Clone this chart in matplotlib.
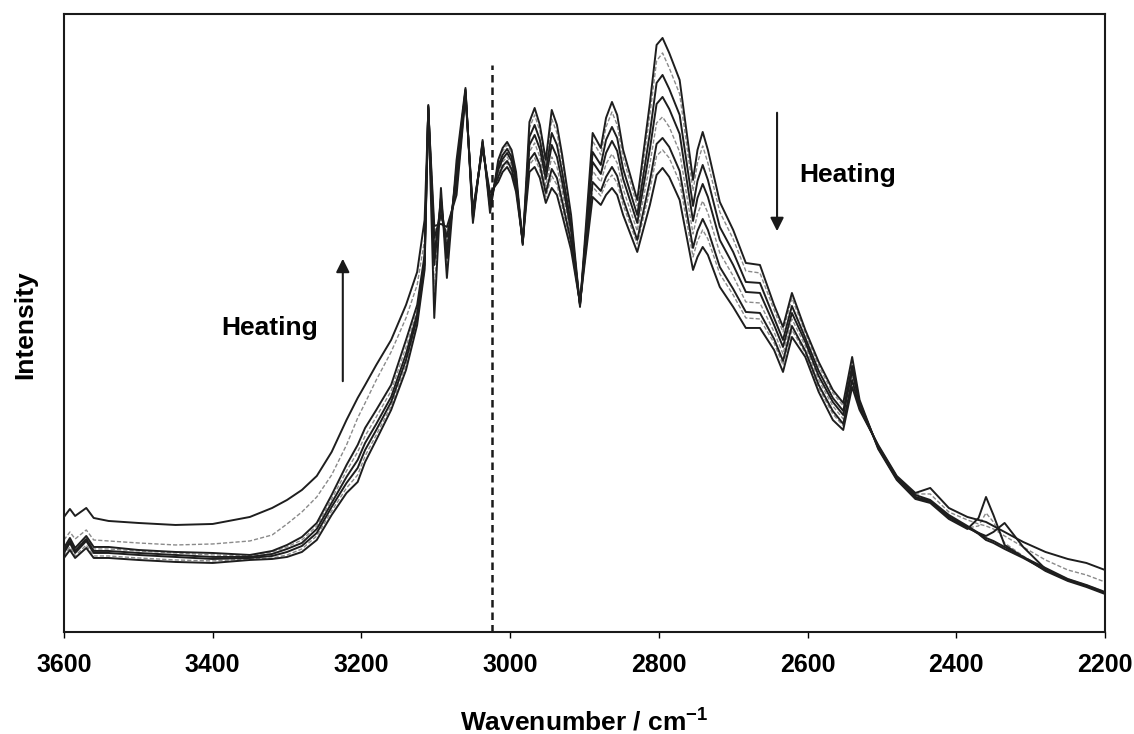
import numpy as np
import matplotlib
matplotlib.use("Agg")
import matplotlib.pyplot as plt

plt.rcParams['font.family'] = ['Liberation Sans', 'DejaVu Sans']
plt.rcParams['mathtext.fontset'] = 'custom'
plt.rcParams['mathtext.rm'] = 'Liberation Sans'
plt.rcParams['mathtext.bf'] = 'Liberation Sans:bold'

# wavenumber nodes (cm-1)
wavenumber = [3600, 3592, 3585, 3570, 3560, 3540, 3500, 3450, 3400, 3350,
              3320, 3300, 3280, 3260, 3240, 3220, 3205, 3195, 3180, 3160,
              3140, 3125, 3115, 3110, 3102, 3093, 3085, 3072, 3060, 3050,
              3037, 3027, 3016, 3010, 3004, 2998, 2992, 2983, 2974, 2967,
              2960, 2952, 2944, 2937, 2930, 2918, 2906, 2889, 2878, 2871,
              2863, 2856, 2848, 2829, 2812, 2803, 2795, 2786, 2772, 2754,
              2748, 2741, 2734, 2718, 2700, 2683, 2664, 2645, 2633, 2621,
              2603, 2585, 2566, 2552, 2540, 2530, 2505, 2480, 2455, 2435,
              2410, 2385, 2370, 2360, 2350, 2335, 2310, 2280, 2250, 2225, 2200]

# intensity (arb. units), spectra ordered from lowest to highest temperature
spec_1 = [74, 82, 74, 84, 74, 74, 72, 70, 69, 72, 73, 75, 80, 92, 117, 139, 150, 170, 192, 222,
          262, 307, 362, 527, 314, 444, 354, 472, 544, 409, 492, 419,
          472, 484, 490, 482, 460, 387, 510, 524, 507, 472, 522, 507, 477, 417, 325, 499, 484, 514,
          530, 517, 482, 432, 529, 587, 594, 579, 552, 452, 482, 500, 482, 430,
          402, 369, 367, 327, 305, 339, 302,
          270, 242, 229, 275, 232, 183, 152, 133, 129, 113, 103, 114, 135, 117, 87, 75, 61, 51, 45, 38]
spec_2 = [76, 85, 76, 87, 76, 76, 74, 72, 71, 73, 74, 77, 83, 96, 121, 144, 157, 176, 197, 226,
          267, 310, 364, 526, 342, 439, 364, 468, 543, 411, 491, 422,
          469, 481, 487, 479, 458, 388, 504, 517, 501, 467, 513, 499, 470, 413, 326, 491, 477, 505,
          520, 507, 474, 426, 517, 571, 579, 564, 538, 441, 469, 486, 469, 420,
          393, 361, 359, 322, 300, 334, 299,
          266, 239, 226, 271, 231, 184, 153, 134, 130, 114, 104, 106, 119, 110, 89, 76, 62, 52, 46, 39]
spec_3 = [79, 89, 79, 91, 79, 79, 77, 75, 73, 74, 76, 80, 86, 99, 125, 149, 164, 182, 202, 230,
          272, 314, 367, 526, 367, 434, 374, 462, 542, 413, 490, 425,
          466, 477, 483, 475, 454, 388, 495, 507, 492, 460, 499, 487, 460, 407, 327, 480, 467, 492,
          505, 494, 463, 417, 499, 549, 557, 543, 517, 426, 451, 467, 452, 405,
          380, 350, 349, 314, 292, 326, 294,
          261, 234, 221, 266, 229, 184, 153, 134, 130, 115, 104, 99, 96, 100, 109, 85, 63, 52, 46, 39]
spec_4 = [81, 91, 81, 93, 81, 81, 79, 77, 75, 75, 78, 83, 89, 103, 129, 155, 172, 189, 208, 235,
          278, 318, 370, 525, 377, 428, 382, 456, 541, 415, 489, 428,
          462, 473, 479, 471, 451, 389, 487, 497, 483, 453, 487, 475, 450, 401, 327, 470, 458, 479,
          491, 481, 453, 409, 483, 528, 535, 523, 498, 411, 434, 448, 435, 392,
          367, 340, 339, 307, 285, 319, 290,
          256, 230, 217, 261, 228, 185, 154, 135, 131, 115, 105, 98, 92, 89, 83, 74, 62, 52, 46, 39]
spec_5 = [83, 92, 83, 95, 83, 83, 81, 79, 77, 76, 80, 85, 92, 106, 133, 161, 180, 196, 215, 241,
          285, 322, 374, 524, 387, 422, 389, 451, 540, 417, 487, 431,
          459, 470, 475, 467, 448, 389, 480, 489, 475, 446, 475, 465, 441, 396, 328, 461, 450, 468,
          478, 469, 443, 401, 468, 509, 515, 505, 480, 398, 418, 431, 419, 379,
          356, 330, 329, 300, 278, 313, 286,
          252, 226, 213, 257, 226, 185, 154, 135, 131, 116, 105, 98, 92, 90, 84, 75, 63, 53, 47, 40]
spec_6 = [84, 94, 84, 96, 85, 85, 82, 80, 79, 77, 81, 87, 95, 109, 137, 167, 187, 204, 222, 247,
          292, 327, 377, 524, 394, 417, 395, 446, 539, 419, 486, 434,
          455, 466, 471, 463, 445, 390, 472, 479, 467, 439, 463, 454, 431, 390, 328, 450, 441, 455,
          465, 456, 433, 392, 451, 488, 494, 485, 461, 384, 401, 413, 402, 365,
          343, 320, 319, 293, 271, 306, 281,
          247, 221, 208, 252, 224, 186, 155, 137, 132, 117, 106, 99, 94, 91, 85, 75, 64, 53, 47, 40]
spec_7 = [92, 100, 93, 102, 92, 91, 89, 87, 88, 91, 97, 108, 120, 135, 157, 187, 214, 229, 252, 280,
          314, 347, 392, 523, 400, 413, 400, 442, 538, 420, 485, 436,
          453, 464, 469, 461, 443, 390, 467, 474, 462, 435, 456, 447, 426, 387, 329, 445, 436, 449,
          457, 449, 427, 388, 442, 476, 482, 474, 450, 375, 391, 402, 393, 358,
          337, 314, 313, 289, 267, 302, 279,
          244, 218, 206, 249, 223, 186, 155, 138, 138, 120, 112, 108, 106, 103, 96, 85, 72, 62, 57, 50]
spec_8 = [115, 123, 116, 124, 114, 111, 109, 107, 108, 115, 124, 132, 142, 156, 180, 212, 234, 247, 267, 292,
          327, 360, 412, 522, 406, 408, 405, 437, 536, 422, 483, 439,
          450, 460, 465, 457, 440, 391, 460, 465, 454, 429, 444, 437, 417, 382, 329, 435, 427, 437,
          444, 437, 417, 380, 427, 457, 464, 455, 432, 362, 375, 385, 377, 345,
          325, 304, 304, 282, 260, 295, 275,
          240, 212, 202, 245, 222, 187, 156, 139, 144, 124, 115, 112, 110, 106, 100, 90, 80, 73, 69, 62]

spectra = [spec_1, spec_2, spec_3, spec_4, spec_5, spec_6, spec_7, spec_8]
dashed = [False, True, False, False, True, False, True, False]

fig = plt.figure(figsize=(11.34, 7.34), dpi=100)
ax = fig.add_axes([0.0564, 0.139, 0.918, 0.842])

for s, d in zip(spectra, dashed):
    if d:
        ax.plot(wavenumber, s, color='#8a8a8a', lw=1.0, ls=(0, (3, 1.5)), zorder=2)
    else:
        ax.plot(wavenumber, s, color='#1e1e1e', lw=1.4, solid_joinstyle='round', zorder=3)

# marker line at 3024 cm-1
ax.plot([3024, 3024], [0, 567], color='#1a1a1a', lw=1.8, ls=(0, (3, 2)), zorder=4)

# heating arrows
ax.annotate('', xy=(3225, 376), xytext=(3225, 248),
            arrowprops=dict(arrowstyle='-|>', color='#1a1a1a', lw=1.5, mutation_scale=20))
ax.text(3323, 304, 'Heating', fontsize=19, fontweight='bold', ha='center', va='center')
ax.annotate('', xy=(2641, 398), xytext=(2641, 522),
            arrowprops=dict(arrowstyle='-|>', color='#1a1a1a', lw=1.5, mutation_scale=20))
ax.text(2546, 457, 'Heating', fontsize=19, fontweight='bold', ha='center', va='center')

ax.set_xlim(3600, 2200)
ax.set_ylim(0, 618)
ax.set_xticks([3600, 3400, 3200, 3000, 2800, 2600, 2400, 2200])
ax.set_yticks([])
ax.tick_params(axis='x', direction='out', length=4, width=1, pad=11, labelsize=18)
for lab in ax.get_xticklabels():
    lab.set_fontweight('bold')
for sp in ax.spines.values():
    sp.set_linewidth(1.5)
    sp.set_color('#1a1a1a')

fig.text(0.515, 0.018, 'Wavenumber / cm$^{\\mathbf{-1}}$', fontsize=19, fontweight='bold',
         ha='center', va='center')
fig.text(0.022, 0.557, 'Intensity', fontsize=19, fontweight='bold', rotation=90,
         ha='center', va='center')

fig.savefig('out.png', dpi=100)
